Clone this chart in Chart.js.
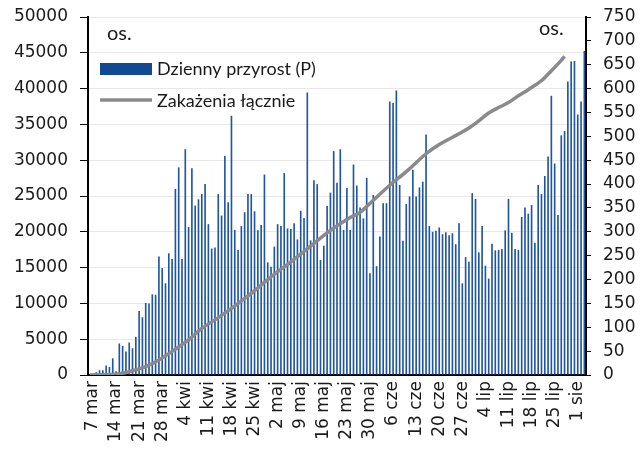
<!DOCTYPE html>
<html>
<head>
<meta charset="utf-8">
<script src="https://cdn.jsdelivr.net/npm/chart.js@4.4.0/dist/chart.umd.min.js"></script>
<style>
body { margin: 0; background: #fff; }
</style>
</head>
<body>
<canvas id="chart" width="640" height="455"></canvas>
<script>
// kategorie: 6 mar .. 3 sie (dni)
const monthNames = ['mar', 'kwi', 'maj', 'cze', 'lip', 'sie'];
const monthDays = [31, 30, 31, 30, 31, 31];
const firstDay = 6;
const lastDay = 3;
const days = [];
monthNames.forEach((m, mi) => {
    const start = mi === 0 ? firstDay : 1;
    const end = mi === monthNames.length - 1 ? lastDay : monthDays[mi];
    for (let d = start; d <= end; d++) days.push(d + ' ' + m);
});

const tickLabels = ['7 mar', '14 mar', '21 mar', '28 mar', '4 kwi', '11 kwi', '18 kwi', '25 kwi',
    '2 maj', '9 maj', '16 maj', '23 maj', '30 maj', '6 cze', '13 cze', '20 cze', '27 cze',
    '4 lip', '11 lip', '18 lip', '25 lip', '1 sie'];

// Dzienny przyrost (prawa oś)
const dailyCases = [
    1, 1, 6, 10, 10, 20, 17, 35, 8, 66, 61, 49, 68, 56, 80, 134, 121, 151, 150, 169,
    168, 248, 224, 192, 255, 243, 390, 435, 243, 473, 310, 433, 355, 368, 379, 400, 316, 265, 267, 379,
    334, 459, 362, 543, 304, 262, 312, 341, 379, 379, 343, 303, 314, 420, 236, 227, 269, 316, 312, 423,
    307, 306, 318, 284, 344, 329, 592, 282, 408, 400, 241, 271, 354, 382, 469, 403, 473, 304, 392, 304,
    441, 397, 351, 328, 413, 213, 377, 228, 290, 360, 360, 573, 570, 596, 398, 281, 358, 374, 430, 374,
    393, 405, 504, 312, 300, 302, 309, 295, 299, 293, 297, 274, 318, 192, 247, 237, 381, 369, 257, 312,
    229, 202, 275, 261, 262, 264, 303, 369, 298, 264, 262, 331, 351, 338, 356, 277, 398, 379, 417, 458,
    585, 443, 335, 502, 511, 615, 657, 658, 546, 573, 679
];

// Zakażenia łącznie (lewa oś) - odczyty z wykresu
const totalDates = ['6 mar', '15 mar', '19 mar', '23 mar', '27 mar', '31 mar', '5 kwi', '9 kwi', '13 kwi',
    '18 kwi', '24 kwi', '30 kwi', '6 maj', '12 maj', '18 maj', '24 maj', '27 maj', '31 maj', '5 cze',
    '10 cze', '16 cze', '20 cze', '26 cze', '29 cze', '2 lip', '5 lip', '8 lip', '11 lip', '14 lip',
    '17 lip', '21 lip', '24 lip', '27 lip', '28 lip'];
const totalCases = [0, 150, 600, 1160, 2100, 3300, 4900, 6500, 7700,
    9300, 11400, 13700, 15800, 18000, 20200, 22000, 22700, 24400, 26500,
    28400, 30900, 32200, 33700, 34500, 35500, 36600, 37350, 38050, 39000,
    39850, 41100, 42500, 43950, 44500];

const leftTicks = { min: 0, max: 50000, step: 5000 };
const rightTicks = { min: 0, max: 750, step: 50 };

const tickFont = { family: "'DejaVu Sans', sans-serif", size: 17 };

const extras = {
    id: 'extras',
    afterDraw(chart) {
        const ctx = chart.ctx;
        const [bars, line] = chart.data.datasets;
        ctx.save();
        ctx.fillStyle = '#1a1a1a';
        ctx.font = '20px Lato';
        ctx.fillText('os.', 107, 40);
        ctx.fillText('os.', 539, 35);

        ctx.fillStyle = '#0f4a92';
        ctx.fillRect(100, 63, 52, 12);
        ctx.strokeStyle = line.borderColor;
        ctx.lineWidth = 3.5;
        ctx.beginPath();
        ctx.moveTo(100, 100);
        ctx.lineTo(152, 100);
        ctx.stroke();

        ctx.fillStyle = '#1a1a1a';
        ctx.font = '18px Lato';
        ctx.fillText(bars.label, 157, 75);
        ctx.fillText(line.label, 157, 107);
        ctx.restore();
    }
};

new Chart(document.getElementById('chart').getContext('2d'), {
    type: 'bar',
    data: {
        labels: days,
        datasets: [{
            type: 'bar',
            label: 'Dzienny przyrost (P)',
            data: dailyCases,
            yAxisID: 'y2',
            backgroundColor: '#2056a0',
            barPercentage: 0.5,
            categoryPercentage: 1,
            order: 1
        }, {
            type: 'line',
            label: 'Zakażenia łącznie',
            data: totalDates.map((d, i) => ({ x: d, y: totalCases[i] })),
            yAxisID: 'y',
            borderColor: '#8a8a8a',
            borderWidth: 3.5,
            pointRadius: 0,
            tension: 0.3,
            order: 0
        }]
    },
    options: {
        responsive: false,
        animation: false,
        layout: { padding: { top: 17, left: 0, right: 0, bottom: 0 } },
        plugins: {
            legend: { display: false },
            tooltip: { enabled: false }
        },
        scales: {
            x: {
                grid: { display: false, drawTicks: false },
                border: { display: true, color: '#000', width: 2 },
                ticks: {
                    autoSkip: false,
                    maxRotation: 90,
                    minRotation: 90,
                    padding: 6,
                    color: '#1a1a1a',
                    font: tickFont,
                    callback: function (value) {
                        const l = this.getLabelForValue(value);
                        return tickLabels.includes(l) ? l : '';
                    }
                },
                afterFit: s => { s.height = 80; s.paddingLeft = 0; s.paddingRight = 0; }
            },
            y: {
                position: 'left',
                min: leftTicks.min,
                max: leftTicks.max,
                grid: { color: '#e8e8e8', tickColor: '#000', tickLength: 8 },
                border: { color: '#000', width: 2 },
                ticks: {
                    stepSize: leftTicks.step, autoSkip: false, padding: 12,
                    color: '#1a1a1a', font: tickFont, callback: v => String(v)
                },
                afterFit: s => { s.width = 88; s.paddingTop = 0; s.paddingBottom = 0; }
            },
            y2: {
                position: 'right',
                min: rightTicks.min,
                max: rightTicks.max,
                grid: { drawOnChartArea: false, tickColor: '#000', tickLength: 5 },
                border: { color: '#000', width: 2 },
                ticks: {
                    stepSize: rightTicks.step, autoSkip: false, padding: 12,
                    color: '#1a1a1a', font: tickFont, callback: v => String(v)
                },
                afterFit: s => { s.width = 54; s.paddingTop = 0; s.paddingBottom = 0; }
            }
        }
    },
    plugins: [extras]
});
</script>
</body>
</html>
